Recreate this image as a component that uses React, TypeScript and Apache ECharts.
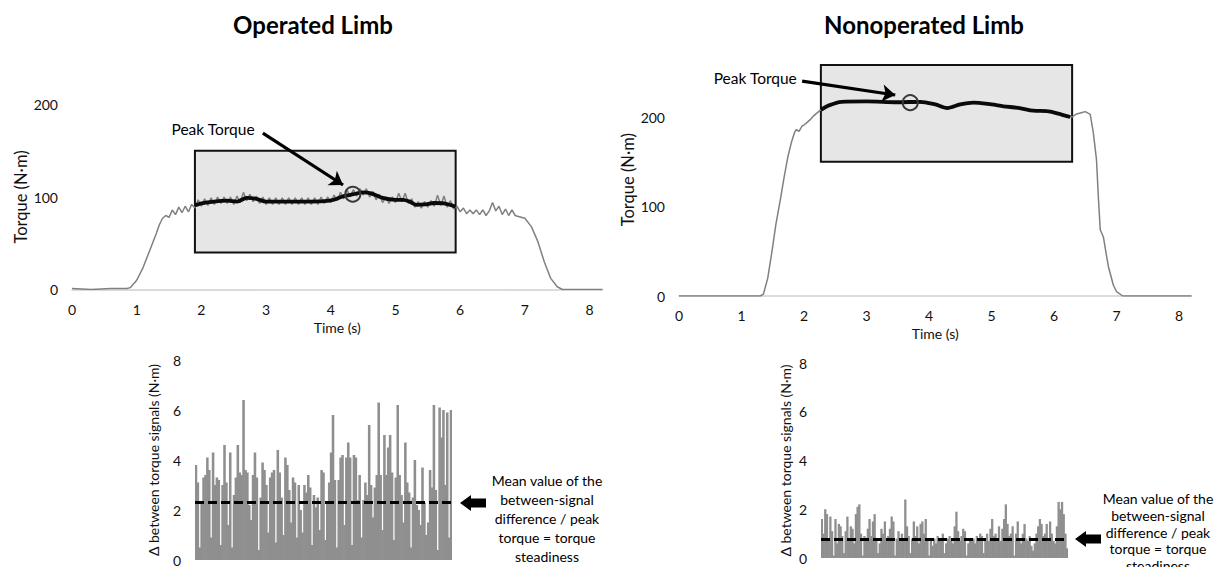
import React, { useEffect, useRef } from "react";
import * as echarts from "echarts";

const FONT = "Lato, 'Open Sans', sans-serif";

// ---------- Operated limb: raw torque signal ----------
const opTime = [0, 0.3, 0.6, 0.85, 0.9, 1.0, 1.1, 1.2, 1.3, 1.35, 1.4, 1.45, 1.5, 1.55, 1.6, 1.65, 1.7, 1.75, 1.8, 1.85, 1.9,
  1.95, 2.0, 2.05, 2.1, 2.15, 2.2, 2.25, 2.3, 2.35, 2.4, 2.45, 2.5, 2.55, 2.6, 2.65, 2.7, 2.75, 2.8, 2.85, 2.9, 2.95, 3.0,
  3.05, 3.1, 3.15, 3.2, 3.25, 3.3, 3.35, 3.4, 3.45, 3.5, 3.55, 3.6, 3.65, 3.7, 3.75, 3.8, 3.85, 3.9, 3.95, 4.0,
  4.05, 4.1, 4.15, 4.2, 4.25, 4.3, 4.35, 4.4, 4.45, 4.5, 4.55, 4.6, 4.65, 4.7, 4.75, 4.8, 4.85, 4.9, 4.95, 5.0,
  5.05, 5.1, 5.15, 5.2, 5.25, 5.3, 5.35, 5.4, 5.45, 5.5, 5.55, 5.6, 5.65, 5.7, 5.75, 5.8, 5.85, 5.9,
  5.95, 6.0, 6.05, 6.1, 6.15, 6.2, 6.25, 6.3, 6.35, 6.4, 6.45, 6.5, 6.55, 6.6, 6.65, 6.7, 6.75, 6.8, 6.85, 6.9,
  7.0, 7.1, 7.2, 7.3, 7.4, 7.5, 7.58, 8.2];
const opTorque = [1, 0, 1, 1, 2, 10, 24, 42, 60, 70, 77, 80, 78, 86, 81, 89, 83, 90, 84, 92, 88,
  97, 90, 98, 91, 99, 92, 100, 93, 100, 93, 100, 92, 101, 94, 105, 96, 103, 95, 101, 93, 100, 92,
  99, 92, 99, 92, 99, 92, 99, 92, 99, 92, 99, 92, 99, 92, 99, 92, 100, 93, 100, 94,
  102, 96, 105, 98, 108, 100, 108, 101, 109, 102, 109, 100, 106, 97, 103, 94, 100, 93, 100, 94,
  104, 95, 104, 93, 98, 89, 95, 88, 95, 89, 96, 90, 102, 91, 101, 89, 96, 87,
  90, 84, 88, 82, 86, 82, 86, 81, 86, 80, 85, 94, 85, 90, 81, 87, 80, 86, 80, 79,
  77, 68, 52, 30, 12, 3, 0, 0];
// smoothed signal (black)
const opSmoothTime = [1.9, 2.0, 2.2, 2.4, 2.55, 2.7, 2.85, 3.0, 3.3, 3.6, 3.9, 4.05, 4.2, 4.35, 4.5, 4.62, 4.8, 5.0, 5.12, 5.22, 5.33, 5.45, 5.6, 5.75, 5.93];
const opSmooth = [91, 93, 95, 96, 95, 99, 98, 95, 95, 95, 95.5, 97, 101, 103, 105, 104, 99, 97, 97, 95, 91.5, 92, 93.5, 93, 89.5];
const opPeak = [4.34, 103];
const opWindow = [[1.9, 40], [5.93, 150]];

// ---------- Nonoperated limb ----------
const nonTime = [0, 0.5, 1.0, 1.3, 1.35, 1.42, 1.49, 1.55, 1.62, 1.68, 1.74, 1.8, 1.85, 1.88, 1.92, 1.97, 2.0, 2.05, 2.1, 2.15, 2.2, 2.27,
  2.4, 2.6, 3.0, 3.5, 3.7, 4.0, 4.3, 4.7, 5.2, 5.7, 5.9, 6.29, 6.35, 6.45, 6.5, 6.58, 6.63, 6.68, 6.71, 6.74, 6.79, 6.84, 6.87, 6.95, 7.0, 7.1, 8.2];
const nonTorque = [0, 0, 0, 0, 2, 20, 51, 80, 107, 132, 155, 172, 183, 186, 184, 190, 191, 194, 197, 201, 204, 208,
  213, 217, 218, 217, 216, 215, 210, 216, 212, 207, 206, 200, 203, 205, 206, 203, 182, 152, 110, 74, 66, 45, 33, 12, 5, 0, 0];
const nonSmoothTime = [2.27, 2.4, 2.6, 3.0, 3.5, 3.86, 4.1, 4.29, 4.5, 4.71, 5.0, 5.19, 5.45, 5.67, 5.89, 6.05, 6.26];
const nonSmooth = [208, 213, 217, 217.5, 216.5, 217, 214, 210, 214, 216, 214, 212, 210, 207, 206.5, 204, 200];
const nonPeak = [3.7, 216];
const nonWindow = [[2.27, 150], [6.29, 258]];

// ---------- Between-signal differences ----------
const opDelta = [3.8, 3.1, 0.5, 2.3, 3.3, 3.4, 4.1, 3.6, 0.9, 4.3, 3.0, 3.3, 3.2, 0.6, 3.0, 4.6, 3.1, 1.4, 4.3, 0.5, 2.6, 3.3, 4.6, 3.5, 3.4, 6.4, 3.6, 3.5, 2.2, 1.6,
  3.4, 4.3, 3.3, 0.4, 2.5, 3.9, 3.6, 3.0, 1.1, 3.3, 3.5, 3.6, 0.7, 4.4, 3.5, 2.5, 1.0, 4.1, 3.8, 2.8, 1.5, 3.3, 3.1, 0.9, 3.0, 2.0, 1.1, 3.0, 2.7, 3.4,
  2.9, 0.6, 2.6, 2.1, 2.5, 1.2, 3.6, 3.5, 0.8, 2.3, 3.1, 4.3, 5.8, 3.2, 0.5, 3.2, 4.1, 4.2, 1.4, 4.1, 4.7, 4.1, 0.6, 4.2, 4.1, 2.4, 3.4, 0.9, 2.4, 3.1,
  2.6, 5.4, 3.0, 1.7, 2.9, 3.4, 6.3, 3.4, 1.2, 5.0, 3.4, 4.5, 5.0, 3.5, 0.8, 3.3, 6.2, 3.4, 2.6, 1.5, 4.7, 3.1, 2.7, 0.5, 2.5, 4.0, 2.2, 2.0, 1.4, 3.7,
  2.3, 1.0, 1.5, 3.6, 2.9, 6.2, 2.8, 0.4, 6.1, 4.9, 6.0, 3.0, 5.9, 0.9, 6.0];
const nonDelta = [1.6, 1.0, 2.0, 1.8, 0.7, 1.7, 1.1, 0.1, 1.6, 0.6, 1.4, 1.3, 0.9, 0.2, 1.1, 1.7, 0.8, 1.3, 1.2, 0.6, 1.8, 2.1, 2.2, 1.0, 0.1, 0.9, 0.7, 1.2, 1.6, 0.9,
  1.5, 1.8, 0.8, 0.2, 0.6, 1.2, 1.0, 1.5, 0.7, 0.9, 1.2, 1.7, 1.5, 0.1, 0.8, 1.1, 0.7, 1.0, 0.8, 2.4, 1.3, 0.9, 0.2, 0.8, 1.5, 0.9, 1.3, 0.6, 1.4, 1.5,
  1.0, 1.6, 0.7, 0.1, 0.8, 0.5, 0.8, 0.6, 0.9, 0.7, 0.8, 1.0, 0.2, 0.6, 0.8, 0.9, 0.7, 0.6, 1.3, 1.9, 1.1, 0.7, 0.9, 1.2, 1.1, 0.1, 0.6, 0.8, 0.7, 0.8,
  0.6, 0.9, 0.8, 1.0, 0.9, 0.2, 0.8, 1.0, 0.7, 1.2, 1.6, 0.9, 1.0, 0.8, 1.3, 0.7, 1.2, 1.6, 2.2, 1.4, 0.9, 1.0, 1.3, 0.1, 1.0, 1.5, 0.8, 0.6, 1.0, 1.4,
  0.8, 0.7, 0.9, 0.5, 0.3, 0.6, 1.0, 1.3, 1.6, 1.4, 0.9, 1.0, 1.4, 0.8, 1.5, 1.0, 0.7, 0.6, 1.3, 2.3, 2.0, 2.3, 1.8, 1.0, 0.4];
const opMean = 2.3;
const nonMean = 0.75;

const timeTicks = [0, 1, 2, 3, 4, 5, 6, 7, 8];
const torqueTicks = [0, 100, 200];
const deltaTicks = [0, 2, 4, 6, 8];

const titles = ["Operated Limb", "Nonoperated Limb"];
const noteLines = ["Mean value of the", "between-signal", "difference / peak", "torque = torque", "steadiness"];

const zip = (a: number[], b: number[]) => a.map((v, i) => [v, b[i]]);

const labelStyle = { fontFamily: FONT, fontSize: 14, color: "#111" };
const nameStyle = { fontFamily: FONT, fontSize: 16.5, color: "#111" };

function timeAxis(gridIndex: number, margin: number, nameGap: number) {
  return {
    type: "value", gridIndex, min: 0, max: 8.2, interval: 1,
    name: "Time (s)", nameLocation: "middle", nameGap,
    nameTextStyle: { ...labelStyle },
    axisLine: { show: true, lineStyle: { color: "#d0d0d0", width: 1.5 } },
    axisTick: { show: false }, splitLine: { show: false },
    axisLabel: { ...labelStyle, margin, formatter: (v: number) => (timeTicks.includes(v) ? String(v) : "") },
  };
}
function torqueAxis(gridIndex: number, max: number, nameGap: number) {
  return {
    type: "value", gridIndex, min: 0, max, interval: 100,
    name: "Torque (N·m)", nameLocation: "middle", nameGap,
    nameTextStyle: { ...nameStyle },
    axisLine: { show: false }, axisTick: { show: false }, splitLine: { show: false },
    axisLabel: { ...labelStyle, margin: 14, formatter: (v: number) => (torqueTicks.includes(v) ? String(v) : "") },
  };
}
function deltaAxis(gridIndex: number, nameGap: number) {
  return {
    type: "value", gridIndex, min: 0, max: 8, interval: 2,
    name: "Δ between torque signals (N·m)", nameLocation: "middle", nameGap,
    nameTextStyle: { ...labelStyle },
    axisLine: { show: false }, axisTick: { show: false }, splitLine: { show: false },
    axisLabel: { ...labelStyle, margin: 14, formatter: (v: number) => (deltaTicks.includes(v) ? String(v) : "") },
  };
}
function catAxis(gridIndex: number, n: number) {
  return {
    type: "category", gridIndex, data: Array.from({ length: n }, (_, i) => String(i + 1)),
    axisLine: { show: false }, axisTick: { show: false }, axisLabel: { show: false }, splitLine: { show: false },
  };
}

function peakMarks(peak: number[], textCoord: number[], arrowFrom: number[], arrowTo: number[]) {
  return {
    markPoint: {
      silent: true,
      data: [
        {
          coord: peak, symbol: "circle", symbolSize: 15,
          itemStyle: { color: "rgba(0,0,0,0)", borderColor: "#3a3a3a", borderWidth: 2 },
          label: { show: false },
        },
        {
          coord: textCoord, symbol: "circle", symbolSize: 1,
          itemStyle: { color: "rgba(0,0,0,0)" },
          label: { show: true, position: "inside", formatter: "Peak Torque", fontFamily: FONT, fontSize: 15.5, color: "#000" },
        },
      ],
    },
    markLine: {
      silent: true, symbol: ["none", "arrow"], symbolSize: [13, 13],
      label: { show: false },
      lineStyle: { color: "#000", width: 3.2, type: "solid" },
      data: [[{ coord: arrowFrom }, { coord: arrowTo }]],
    },
  };
}

function windowArea(win: number[][]) {
  return {
    silent: true,
    itemStyle: { color: "#e6e6e6", borderColor: "#111", borderWidth: 2 },
    data: [[{ coord: win[0] }, { coord: win[1] }]],
  };
}

function blockArrow(tipX: number, y: number) {
  return {
    type: "polygon",
    shape: {
      points: [[tipX, y], [tipX + 11, y - 8], [tipX + 11, y - 4.5], [tipX + 26, y - 4.5], [tipX + 26, y + 4.5], [tipX + 11, y + 4.5], [tipX + 11, y + 8]],
    },
    style: { fill: "#000" },
  };
}

export default function App() {
  const ref = useRef<HTMLDivElement>(null);
  useEffect(() => {
    if (!ref.current) return;
    const chart = echarts.init(ref.current, null, { renderer: "svg" });
    const meanLine = (v: number) => ({
      silent: true, symbol: ["none", "none"], label: { show: false },
      lineStyle: { color: "#000", width: 3, type: [9, 4] },
      data: [{ yAxis: v }],
    });
    chart.setOption({
      animation: false,
      backgroundColor: "#fff",
      grid: [
        { left: 72, top: 104.5, width: 530.5, height: 185 },
        { left: 679, top: 63.3, width: 512.5, height: 232.7 },
        { left: 195, top: 360, width: 257, height: 200 },
        { left: 821, top: 363, width: 247, height: 195 },
      ],
      xAxis: [timeAxis(0, 13, 31), timeAxis(1, 12, 30), catAxis(2, opDelta.length), catAxis(3, nonDelta.length)],
      yAxis: [torqueAxis(0, 200, 41), torqueAxis(1, 260, 38), deltaAxis(2, 35), deltaAxis(3, 29)],
      series: [
        {
          type: "line", xAxisIndex: 0, yAxisIndex: 0, data: zip(opTime, opTorque), showSymbol: false,
          lineStyle: { color: "#808080", width: 1.5 }, markArea: windowArea(opWindow), z: 2,
        },
        {
          type: "line", xAxisIndex: 0, yAxisIndex: 0, data: zip(opSmoothTime, opSmooth), showSymbol: false, smooth: 0.3,
          lineStyle: { color: "#0a0a0a", width: 3.8 }, z: 3,
          ...peakMarks(opPeak, [2.18, 173.5], [2.95, 169], [4.19, 113]),
        },
        {
          type: "line", xAxisIndex: 1, yAxisIndex: 1, data: zip(nonTime, nonTorque), showSymbol: false,
          lineStyle: { color: "#808080", width: 1.5 }, markArea: windowArea(nonWindow), z: 2,
        },
        {
          type: "line", xAxisIndex: 1, yAxisIndex: 1, data: zip(nonSmoothTime, nonSmooth), showSymbol: false, smooth: 0.3,
          lineStyle: { color: "#0a0a0a", width: 3.8 }, z: 3,
          ...peakMarks(nonPeak, [1.22, 243.6], [1.97, 240], [3.46, 224.6]),
        },
        {
          type: "bar", xAxisIndex: 2, yAxisIndex: 2, data: opDelta, barWidth: "135%", barGap: "-100%",
          itemStyle: { color: "#8f8f8f" }, markLine: meanLine(opMean),
        },
        {
          type: "bar", xAxisIndex: 3, yAxisIndex: 3, data: nonDelta, barWidth: "135%", barGap: "-100%",
          itemStyle: { color: "#8f8f8f" }, markLine: meanLine(nonMean),
        },
      ],
      graphic: [
        { type: "text", x: 313, y: 24, style: { text: titles[0], font: `bold 24px ${FONT}`, fill: "#000", align: "center", verticalAlign: "middle" } },
        { type: "text", x: 924, y: 24, style: { text: titles[1], font: `bold 24px ${FONT}`, fill: "#000", align: "center", verticalAlign: "middle" } },
        blockArrow(460, 503),
        blockArrow(1075, 539),
        { type: "text", x: 547, y: 470.5, style: { text: noteLines.join("\n"), font: `14px ${FONT}`, lineHeight: 19.2, fill: "#000", align: "center", verticalAlign: "top" } },
        { type: "text", x: 1158, y: 490, style: { text: noteLines.join("\n"), font: `14px ${FONT}`, lineHeight: 16.8, fill: "#000", align: "center", verticalAlign: "top" } },
      ],
    });
    return () => chart.dispose();
  }, []);
  return <div ref={ref} style={{ position: "fixed", left: 0, top: 0, width: 1220, height: 567 }} />;
}
